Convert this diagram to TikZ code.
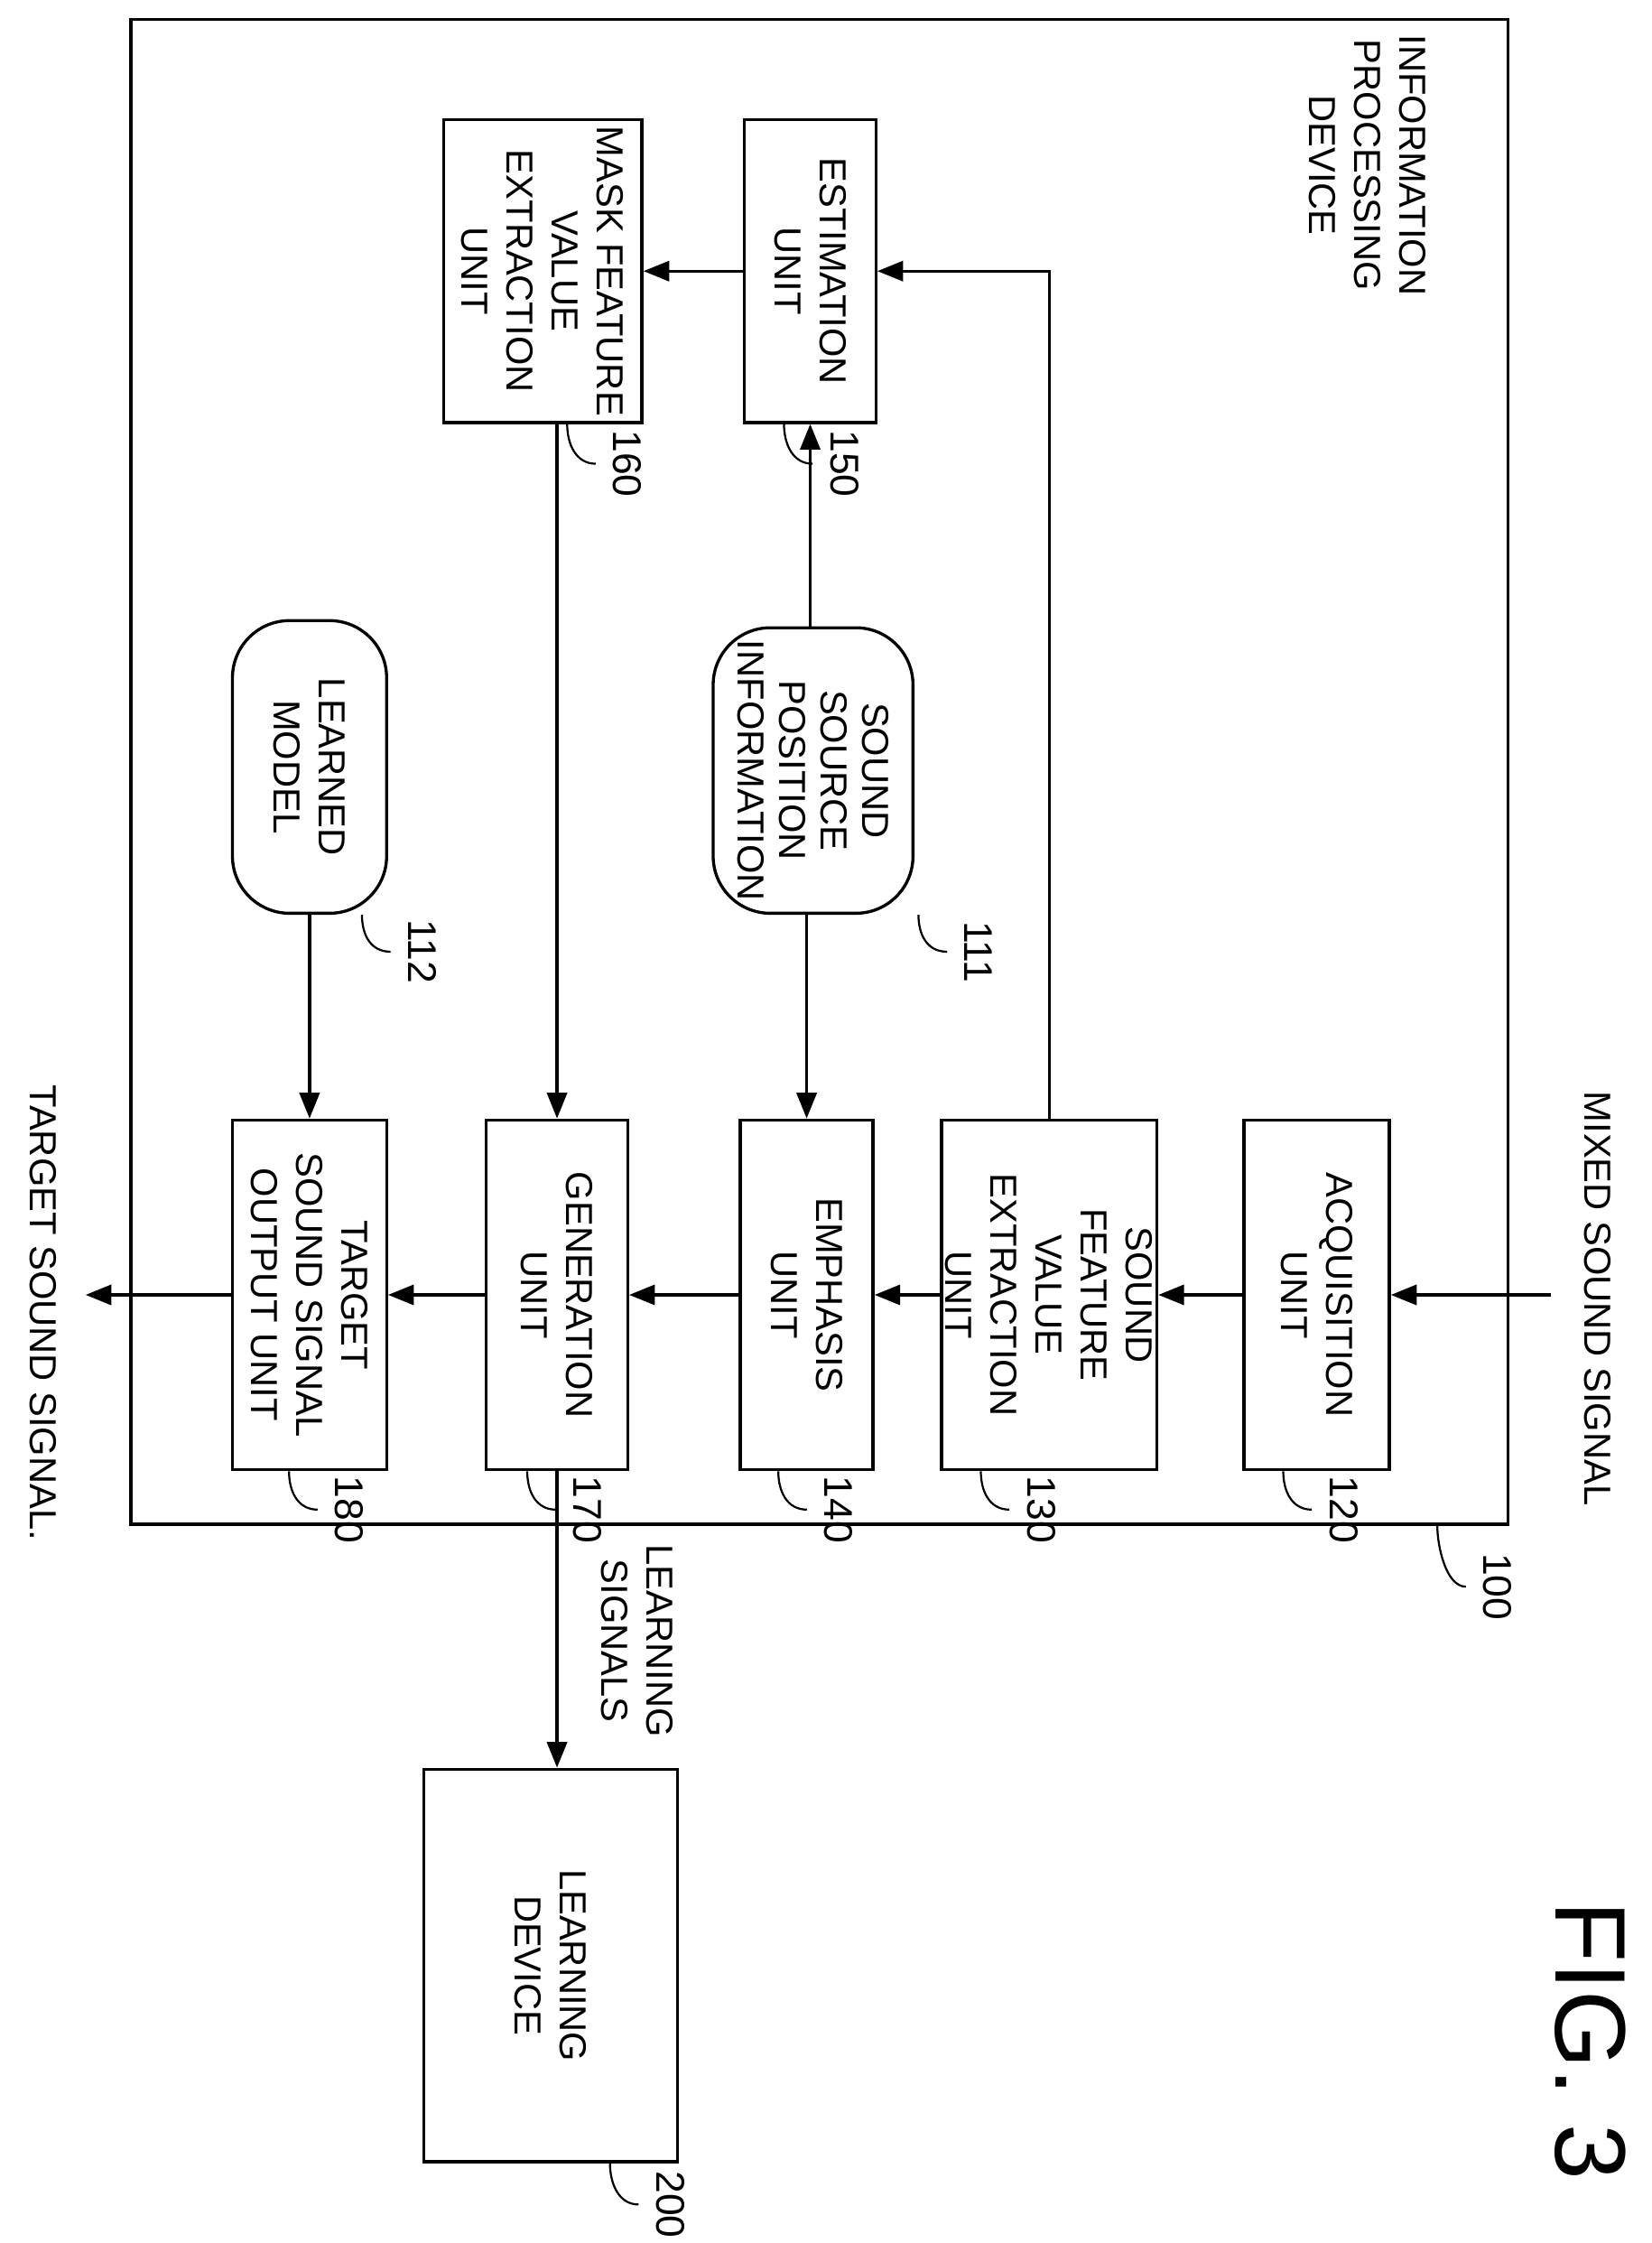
\documentclass[tikz,border=0pt]{standalone}
\usepackage{fontspec}
\setmainfont{Liberation Sans}
\usetikzlibrary{arrows.meta}
\tikzset{
  unit/.style={draw, semithick, rotate=-90, align=center, inner sep=0pt,
    font=\fontsize{7.5}{9}\selectfont},
  store/.style={unit, rounded corners=4mm},
  arr/.style={semithick, -{Triangle[length=1.8mm,width=1.4mm]}},
  txt/.style={rotate=-90, align=center, font=\fontsize{7.5}{9}\selectfont},
  refnum/.style={rotate=-90, font=\fontsize{8}{9}\selectfont},
  lead/.style={thin}
}
\begin{document}
\begin{tikzpicture}[x=0.01cm,y=-0.01cm]
    \useasboundingbox (0,0) rectangle (1158,1572);

        % outer device
    \node[draw, semithick, minimum width=9.65cm, minimum height=10.54cm, inner sep=0pt] (ipd) at (574.5,541) {};
    \node[txt, anchor=north west] (ipdt) at (1012,12) {INFORMATION\\PROCESSING\\DEVICE};

        % units (rotated: width = page height)
    \node[unit, minimum width=2.45cm, minimum height=1.02cm] (acq) at (923,907.5) {ACQUISITION\\UNIT};
    \node[unit, minimum width=2.45cm, minimum height=1.51cm] (sfe) at (735.5,907.5) {SOUND\\FEATURE\\VALUE\\EXTRACTION\\UNIT};
    \node[unit, minimum width=2.45cm, minimum height=0.93cm] (emp) at (565.5,907.5) {EMPHASIS\\UNIT};
    \node[unit, minimum width=2.45cm, minimum height=0.99cm] (gen) at (390.5,907.5) {GENERATION\\UNIT};
    \node[unit, minimum width=2.45cm, minimum height=1.08cm] (tso) at (217,907.5) {TARGET\\SOUND SIGNAL\\OUTPUT UNIT};
    \node[unit, minimum width=2.12cm, minimum height=0.92cm] (est) at (568,190) {ESTIMATION\\UNIT};
    \node[unit, minimum width=2.12cm, minimum height=1.39cm] (mfe) at (380.5,190) {MASK FEATURE\\VALUE\\EXTRACTION\\UNIT};
    \node[store, minimum width=2.00cm, minimum height=1.40cm, font=\fontsize{7.5}{8.3}\selectfont] (ssp) at (570,540) {SOUND\\SOURCE\\POSITION\\INFORMATION};
    \node[store, minimum width=2.05cm, minimum height=1.08cm] (lm) at (217,537.5) {LEARNED\\MODEL};
    \node[unit, minimum width=2.75cm, minimum height=1.78cm] (ld) at (386,1377.5) {LEARNING\\DEVICE};

    \coordinate (in) at (1087,907.5);
    \coordinate (out) at (60,907.5);

        % signal flow
    \draw[arr] (in) -- (acq);
    \draw[arr] (acq) -- (sfe);
    \draw[arr] (sfe) -- (emp);
    \draw[arr] (emp) -- (gen);
    \draw[arr] (gen) -- (tso);
    \draw[arr] (tso) -- (out);
    \draw[arr] (sfe.west) |- (est);
    \draw[arr] (est) -- (mfe);
    \draw[arr] (ssp.west -| est.east) -- (est.east);
    \draw[arr] (ssp.east -| emp.west) -- (emp.west);
    \draw[arr] (mfe.east -| gen.west) -- (gen.west);
    \draw[arr] (lm.east) -- (tso.west);
    \draw[arr] (gen.east) -- (gen.east |- ld.west);

    \node[txt] (mss) at (1120,910) {MIXED SOUND SIGNAL};
    \node[txt] (tss) at (30,920) {TARGET SOUND SIGNAL.};
    \node[txt] (lsig) at (447,1150) {LEARNING\\SIGNALS};
    \node[rotate=-90, font=\fontsize{20}{22}\selectfont] (fig) at (1115,1430) {FIG. 3};

        % reference numerals
    \node[refnum] (n100) at (1050,1112) {100};
    \node[refnum] (n120) at (942,1058) {120};
    \node[refnum] (n130) at (730,1058) {130};
    \node[refnum] (n140) at (588,1058) {140};
    \node[refnum] (n170) at (412,1058) {170};
    \node[refnum] (n180) at (245,1058) {180};
    \node[refnum] (n150) at (592,325) {150};
    \node[refnum] (n160) at (440,325) {160};
    \node[refnum] (n111) at (686,667) {111};
    \node[refnum] (n112) at (296,667) {112};
    \node[refnum] (n200) at (470,1545) {200};
    \foreach \b/\n in {acq/n120, sfe/n130, emp/n140, gen/n170, tso/n180,
        est/n150, mfe/n160, ssp/n111, lm/n112, ld/n200}
        \draw[lead] ([xshift=-0.2cm]\n.south |- \b.north east) .. controls +(0,14) and +(-14,0) .. (\n.south);
    \draw[lead] ([xshift=-0.2cm]n100.south |- ipd.south) .. controls +(0,14) and +(-14,0) .. (n100.south);
\end{tikzpicture}
\end{document}
